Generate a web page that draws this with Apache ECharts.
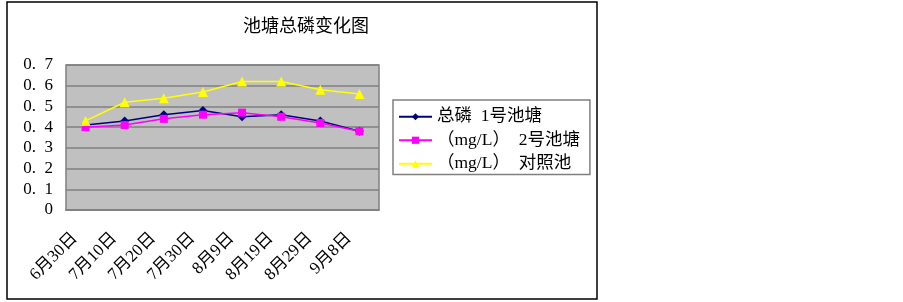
<!DOCTYPE html>
<html><head><meta charset="utf-8">
<script src="https://cdn.jsdelivr.net/npm/echarts@6/dist/echarts.min.js"></script>
<style>html,body{margin:0;padding:0;background:#fff}#c{width:903px;height:302px}</style>
</head><body><div id="c"></div>
<script>
const categories = ['6月30日','7月10日','7月20日','7月30日','8月9日','8月19日','8月29日','9月8日'];
const pond1 = [0.41, 0.43, 0.46, 0.48, 0.45, 0.46, 0.43, 0.38];
const pond2 = [0.40, 0.41, 0.44, 0.46, 0.47, 0.45, 0.42, 0.38];
const control = [0.43, 0.52, 0.54, 0.57, 0.62, 0.62, 0.58, 0.56];
const seriesNames = ['总磷  1号池塘', '（mg/L）  2号池塘', '（mg/L）  对照池'];
const titleText = '池塘总磷变化图';

const FONT = '"Liberation Serif", "Noto Sans CJK SC", serif';
const chart = echarts.init(document.getElementById('c'));
function mk(name, data, color, symbol, size) {
  return { name, type: 'line', data, color, symbol, symbolSize: size,
    lineStyle: { color, width: 1.5 }, itemStyle: { color },
    emphasis: { disabled: true }, animation: false };
}
chart.setOption({
  animation: false,
  backgroundColor: '#fff',
  title: { text: titleText, left: 301, top: 11, textAlign: 'center',
    textStyle: { fontFamily: '"Noto Sans CJK SC"', fontWeight: 'normal', fontSize: 18, color: '#000' } },
  grid: { left: 66, right: 524, top: 65, bottom: 92, show: true,
    backgroundColor: '#C0C0C0', borderColor: '#808080', borderWidth: 1.5 },
  legend: { orient: 'vertical', left: 393, top: 100, padding: [8, 10, 2, 5], itemGap: 6,
    itemWidth: 33, itemHeight: 9, borderColor: '#808080', borderWidth: 1.5,
    textStyle: { fontFamily: FONT, fontSize: 17.5, color: '#000' } },
  xAxis: { type: 'category', data: categories, boundaryGap: true,
    axisLine: { lineStyle: { color: '#808080', width: 1.5 } },
    axisTick: { inside: true, length: 5, lineStyle: { color: '#808080' } },
    axisLabel: { rotate: 45, margin: 15, padding: [0, 15, 0, 0], fontFamily: FONT, fontSize: 17, color: '#000', interval: 0 } },
  yAxis: { type: 'value', min: 0, max: 0.7, interval: 0.1,
    axisLine: { show: false }, axisTick: { show: false },
    splitLine: { lineStyle: { color: '#808080', width: 1.5 } },
    axisLabel: { margin: 13, fontFamily: FONT, fontSize: 17, color: '#000',
      formatter: v => v === 0 ? '0' : v.toFixed(1).replace('.', '.  ') } },
  series: [
    mk(seriesNames[0], pond1, '#000080', 'diamond', 9),
    mk(seriesNames[1], pond2, '#FF00FF', 'rect', 8),
    mk(seriesNames[2], control, '#FFFF00', 'triangle', 10)
  ],
  graphic: [{ type: 'rect', shape: { x: 7, y: 2, width: 590, height: 297 },
    style: { fill: null, stroke: '#000', lineWidth: 1.5 }, silent: true }]
});
</script></body></html>
